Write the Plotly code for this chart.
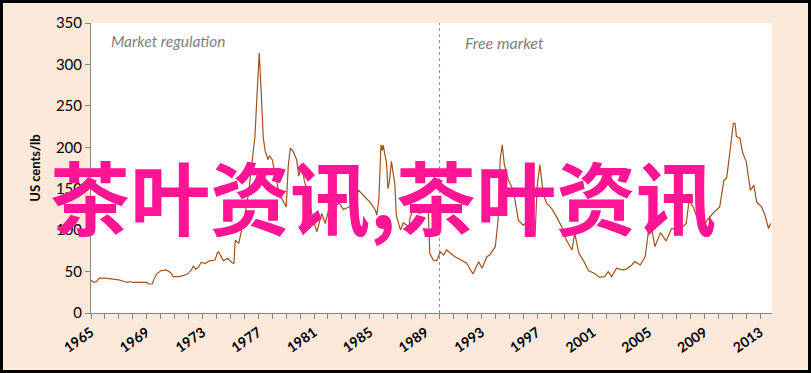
import plotly.graph_objects as go

years = [1965.0, 1965.2, 1965.4, 1965.6, 1966.0, 1966.5, 1967.0, 1967.4, 1967.6, 1967.8,
         1968.0, 1968.5, 1969.0, 1969.1, 1969.4, 1969.5, 1969.7, 1970.0, 1970.4, 1970.7,
         1970.9, 1971.3, 1971.6, 1971.9, 1972.2, 1972.35, 1972.5, 1972.7, 1972.9, 1973.2,
         1973.5, 1973.9, 1974.05, 1974.15, 1974.5, 1974.8, 1975.1, 1975.25, 1975.35, 1975.6,
         1975.8, 1976.0, 1976.3, 1976.65, 1976.76, 1976.9, 1977.07, 1977.2, 1977.36, 1977.5,
         1977.7, 1977.8, 1978.0, 1978.3, 1978.55, 1978.7, 1979.0, 1979.15, 1979.3, 1979.5,
         1979.75, 1979.9, 1980.1, 1980.3, 1980.6, 1980.9, 1981.2, 1981.55, 1981.8, 1982.1,
         1982.5, 1982.8, 1983.1, 1983.5, 1983.8, 1984.2, 1984.6, 1985.0, 1985.4, 1985.5,
         1985.65, 1985.8, 1985.9, 1985.95, 1986.2, 1986.3, 1986.4, 1986.55, 1986.8, 1986.9,
         1987.2, 1987.4, 1987.8, 1987.9, 1988.1, 1988.6, 1988.9, 1989.2, 1989.3, 1989.55,
         1989.8, 1990.05, 1990.3, 1990.5, 1990.8, 1991.1, 1991.55, 1991.95, 1992.4, 1992.8,
         1993.05, 1993.4, 1993.6, 1994.0, 1994.2, 1994.35, 1994.5, 1994.65, 1994.95, 1995.3,
         1995.65, 1996.0, 1996.3, 1996.6, 1996.85, 1997.0, 1997.2, 1997.45, 1997.7, 1998.05,
         1998.4, 1998.8, 1999.1, 1999.5, 1999.7, 2000.0, 2000.3, 2000.7, 2001.1, 2001.5,
         2001.85, 2002.1, 2002.35, 2002.7, 2003.1, 2003.4, 2003.8, 2004.0, 2004.4, 2004.75,
         2005.0, 2005.2, 2005.45, 2005.85, 2006.25, 2006.65, 2007.05, 2007.3, 2007.7, 2007.9,
         2008.2, 2008.6, 2008.95, 2009.2, 2009.65, 2010.1, 2010.4, 2010.6, 2010.85, 2011.08,
         2011.2, 2011.3, 2011.55, 2011.75, 2012.0, 2012.3, 2012.55, 2012.75, 2013.1, 2013.35,
         2013.6, 2013.75]

prices = [40, 37, 38, 42, 42, 41, 40, 38, 37, 38,
          37, 37, 37, 35, 35, 40, 47, 51, 52, 49,
          44, 44, 45, 47, 52, 57, 53, 55, 61, 60,
          63, 64, 72, 74, 63, 66, 61, 60, 88, 84,
          100, 115, 144, 201, 213, 260, 314, 269, 211, 195,
          185, 190, 185, 160, 140, 138, 128, 177, 199, 195,
          185, 165, 180, 160, 140, 115, 98, 120, 108, 128,
          128, 133, 125, 128, 130, 148, 141, 134, 124, 118,
          137, 203, 196, 203, 181, 150, 158, 183, 155, 118,
          100, 109, 104, 116, 124, 120, 127, 122, 72, 64,
          63, 74, 70, 76, 72, 68, 64, 60, 47, 62,
          54, 68, 70, 80, 112, 185, 203, 179, 160, 148,
          112, 106, 110, 106, 92, 152, 179, 143, 132, 126,
          116, 103, 88, 76, 96, 72, 64, 51, 48, 43,
          44, 50, 44, 54, 52, 53, 58, 62, 58, 68,
          100, 104, 80, 97, 87, 102, 100, 102, 108, 136,
          128, 109, 105, 112, 121, 128, 160, 163, 197, 229,
          229, 213, 211, 193, 183, 148, 154, 134, 128, 118,
          102, 108]

tick_years = list(range(1965, 2014, 4))
tick_labels = ["<b>%d</b>" % y for y in tick_years]
y_ticks = list(range(0, 351, 50))
regime_split = 1990.0

W, H = 811, 373
ML, MR, MT, MB = 91, 39, 23, 60
pw, ph = W - ML - MR, H - MT - MB

def px(xp):
    return (xp - ML) / pw

def py(yp):
    return (H - MB - yp) / ph

fig = go.Figure()
fig.add_trace(go.Scatter(x=years, y=prices, mode="lines",
                         line=dict(color="#A0521E", width=1.2),
                         hoverinfo="skip", showlegend=False))

grey = "#868686"
fnt = "Lato, Open Sans, sans-serif"
fig.update_layout(
    width=W, height=H,
    margin=dict(l=ML, r=MR, t=MT, b=MB),
    paper_bgcolor="#FCE9DA",
    plot_bgcolor="#FFFFFF",
    font=dict(family=fnt, color="#000000", size=13),
    xaxis=dict(range=[1965, 2013.85], tickvals=tick_years, ticktext=tick_labels,
               tickangle=-35, ticks="outside", ticklen=5, tickcolor=grey,
               showline=True, linecolor=grey, linewidth=1, showgrid=False,
               zeroline=False,
               tickfont=dict(family=fnt, size=14, color="#000"),
               minor=dict(dtick=1, tick0=1965, ticks="outside", ticklen=5, tickcolor=grey,
                          showgrid=False)),
    yaxis=dict(range=[0, 350], tickvals=y_ticks, ticks="outside", ticklen=5,
               tickcolor=grey, showline=True, linecolor=grey, linewidth=1,
               showgrid=False, zeroline=False,
               tickfont=dict(size=15, color="#000"),
               title=dict(text="<b>US cents/lb</b>", standoff=12,
                          font=dict(size=13, color="#000"))),
    shapes=[
        dict(type="line", xref="x", yref="paper", x0=regime_split, x1=regime_split,
             y0=0, y1=1, line=dict(color="#909090", width=1, dash="dot")),
        dict(type="rect", xref="paper", yref="paper",
             x0=px(1.5), x1=px(W - 1.5), y0=py(H - 1.5), y1=py(1.5),
             line=dict(color="#000000", width=3), fillcolor="rgba(0,0,0,0)", layer="above"),
    ],
    annotations=[
        dict(text="<i>Market regulation</i>", xref="paper", yref="paper",
             x=px(109), y=py(41), xanchor="left", yanchor="middle", showarrow=False,
             font=dict(size=15.5, color="#7F7F7F", family=fnt)),
        dict(text="<i>Free market</i>", xref="paper", yref="paper",
             x=px(463), y=py(42), xanchor="left", yanchor="middle", showarrow=False,
             font=dict(size=16, color="#7F7F7F", family=fnt)),
        dict(text="<b>茶叶资讯,茶叶资讯</b>", xref="paper", yref="paper",
             x=px(383), y=py(194), xanchor="center", yanchor="middle", showarrow=False,
             font=dict(size=80, color="#FF1493", family="Noto Sans CJK SC")),
    ],
)

fig.write_html("out.html")
